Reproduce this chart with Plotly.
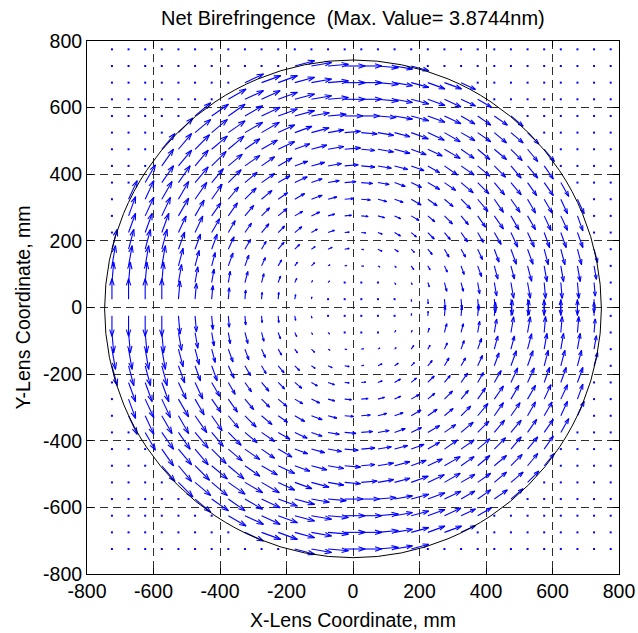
import math

import plotly.figure_factory as ff
import plotly.graph_objects as go

# Peak net retardance over the lens aperture (nm)
MAX_VALUE_NM = 3.8744

# Sample grid (mm)
GRID_X_MM = [-725, -675, -625, -575, -525, -475, -425, -375, -325, -275, -225,
             -175, -125, -75, -25, 25, 75, 125, 175, 225, 275, 325, 375, 425,
             475, 525, 575, 625, 675, 725, 775]
GRID_Y_MM = [775, 725, 675, 625, 575, 525, 475, 425, 375, 325, 275, 225, 175,
             125, 75, 25, -25, -75, -125, -175, -225, -275, -325, -375, -425,
             -475, -525, -575, -625, -675, -725]

# Retardance magnitude per grid node, in ninths of MAX_VALUE_NM
# ('.' = outside the clear aperture, no measurement)
MAG_ROWS = [
    "." * 31,
    "." * 11 + "99999988" + "." * 12,
    "." * 8 + "99999999988887" + "." * 9,
    "." * 7 + "9999999999888877" + "." * 8,
    "." * 5 + "99999998888888887777" + "." * 6,
    "." * 4 + "9999998887777788877777" + "." * 5,
    "." * 3 + "999998887777677778777777" + "." * 4,
    "." * 3 + "999988776666666667777777" + "." * 4,
    "." * 2 + "99998877665555555667777777" + "." * 3,
    "." * 1 + "9999987765554444455567777777" + "." * 2,
    "." * 1 + "9999877655443333344556777777" + "." * 2,
    "." * 1 + "9998876554433222334455677777" + "." * 2,
    "999987765443222122234456777776" + ".",
    "999987665432211111223456677776" + ".",
    "999987655432110001124456777776" + ".",
    "999987654332100000124456777776" + ".",
    "999987654332100000124456777776" + ".",
    "999987655432110001124456777776" + ".",
    "999987665432211111223456677776" + ".",
    "999987765443222122234456777776" + ".",
    "." * 1 + "9998876554433222334455677777" + "." * 2,
    "." * 1 + "9999877655443333344556777777" + "." * 2,
    "." * 1 + "9999987765554444455567777777" + "." * 2,
    "." * 2 + "99998877665555555667777777" + "." * 3,
    "." * 3 + "999988776666666667777777" + "." * 4,
    "." * 3 + "999998887777677778777777" + "." * 4,
    "." * 4 + "9999998887777788877777" + "." * 5,
    "." * 5 + "99999998888888887777" + "." * 6,
    "." * 7 + "9999999999888877" + "." * 8,
    "." * 8 + "99999999988887" + "." * 9,
    "." * 11 + "99999988" + "." * 12,
]

# Principal-axis orientation per node, 5 degree steps:
# 'a' = -90 deg ... 's' = 0 deg ... 'K' = +90 deg
ANGLE_CODES = "abcdefghijklmnopqrstuvwxyzABCDEFGHIJK"
ANGLE_ROWS = [
    "." * 31,
    "." * 11 + "vutssrqp" + "." * 12,
    "." * 8 + "xwwvutssrqpoon" + "." * 9,
    "." * 7 + "yxxwvutssrqponnm" + "." * 8,
    "." * 5 + "Azzyxwvutssrqponmllk" + "." * 6,
    "." * 4 + "BAAzyyxwvut" + "rqponmmlkkj" + "." * 5,
    "." * 3 + "CCBAAzyxwvut" + "rqponmlkkjii" + "." * 4,
    "." * 3 + "DCCBAzzywvut" + "rqpomllkjiih" + "." * 4,
    "." * 2 + "EDDCCBAzyxwut" + "rqonmlkjiihhg" + "." * 3,
    "." * 1 + "FFEEDDCBAzywvt" + "rpomlkjihhggff" + "." * 2,
    "." * 1 + "GFFEEDDCBAyxvt" + "rpnmkjihhggffe" + "." * 2,
    "." * 1 + "GGGFFEEDCBAywt" + "romkjihggffeee" + "." * 2,
    "HHHHGGGFEECBzxu" + "qnljiggfeeedddd" + ".",
    "IIIIHHHGGFEDByu" + "qmjhgfeedddcccc" + ".",
    "JJJJIIIIHHGFEBw" + "ojgfeddccccbbbb" + ".",
    "KKKKJJJJJJJIIGB" + "jeccbbbbbbbaaaa" + ".",
    "aaaabbbbbbbccej" + "BGIIJJJJJJJKKKK" + ".",
    "bbbbccccddefgjo" + "wBEFGHHIIIIJJJJ" + ".",
    "ccccdddeefghjmq" + "uyBDEFGGHHHIIII" + ".",
    "ddddeeefggijlnq" + "uxzBCEEFGGGHHHH" + ".",
    "." * 1 + "eeeffgghijkmor" + "twyABCDEEFFGGG" + "." * 2,
    "." * 1 + "effgghhijkmnpr" + "tvxyABCDDEEFFG" + "." * 2,
    "." * 1 + "ffgghhijklmopr" + "tvwyzABCDDEEFF" + "." * 2,
    "." * 2 + "ghhiijklmnoqr" + "tuwxyzABCCDDE" + "." * 3,
    "." * 3 + "hiijkllmopqr" + "tuvwyzzABCCD" + "." * 4,
    "." * 3 + "iijkklmnopqr" + "tuvwxyzAABCC" + "." * 4,
    "." * 4 + "jkklmmnopqr" + "tuvwxyyzAAB" + "." * 5,
    "." * 5 + "kllmnopqrs" + "stuvwxyzzA" + "." * 6,
    "." * 7 + "mnnopqrs" + "stuvwxxy" + "." * 8,
    "." * 8 + "noopqrs" + "stuvwwx" + "." * 9,
    "." * 11 + "pqrs" + "stuv" + "." * 12,
]

# Lens clear-aperture outline (mm)
LENS_CENTER_MM = (0.0, -4.0)
LENS_RADIUS_MM = 747.0

TITLE = f"Net Birefringence  (Max. Value= {MAX_VALUE_NM}nm)"
X_LABEL = "X-Lens Coordinate, mm"
Y_LABEL = "Y-Lens Coordinate, mm"
TICKS = [-800, -600, -400, -200, 0, 200, 400, 600, 800]

FONT = "Liberation Sans, Arial, Helvetica, sans-serif"
BLUE = "#0000ff"

# ---- build vector components -------------------------------------------
qx, qy, qu, qv = [], [], [], []
dot_x, dot_y = [], []
for r, y in enumerate(GRID_Y_MM):
    mrow, arow = MAG_ROWS[r], ANGLE_ROWS[r]
    for c, x in enumerate(GRID_X_MM):
        m = mrow[c] if c < len(mrow) else "."
        a = arow[c] if c < len(arow) else "."
        level = int(m) if m.isdigit() else 0
        if level == 0 or a == ".":
            dot_x.append(x)
            dot_y.append(y)
            continue
        mag = level * MAX_VALUE_NM / 9.0
        theta = math.radians((ANGLE_CODES.index(a) - 18) * 5)
        qx.append(x)
        qy.append(y)
        qu.append(mag * math.cos(theta))
        qv.append(mag * math.sin(theta))

# quiver-style autoscale: longest arrow = 0.9 x diagonal grid spacing
n = len(GRID_X_MM)
delx = (max(GRID_X_MM) - min(GRID_X_MM)) / n
dely = (max(GRID_Y_MM) - min(GRID_Y_MM)) / n
longest = max(math.hypot(u, v) for u, v in zip(qu, qv))
scale = 0.9 * math.hypot(delx, dely) / longest

fig = ff.create_quiver(
    qx, qy, qu, qv,
    scale=scale,
    arrow_scale=0.3475,
    angle=0.3187,
    line=dict(color=BLUE, width=1.1),
    showlegend=False,
    hoverinfo="skip",
)

fig.add_trace(go.Scatter(
    x=dot_x, y=dot_y, mode="markers",
    marker=dict(color=BLUE, size=2, symbol="square", line=dict(width=0)),
    showlegend=False, hoverinfo="skip",
))

cx, cy = LENS_CENTER_MM
fig.add_shape(
    type="circle", xref="x", yref="y",
    x0=cx - LENS_RADIUS_MM, x1=cx + LENS_RADIUS_MM,
    y0=cy - LENS_RADIUS_MM, y1=cy + LENS_RADIUS_MM,
    line=dict(color="black", width=1), layer="above",
)

axis_common = dict(
    range=[-800, 800],
    autorange=False,
    automargin=False,
    tickvals=TICKS,
    ticktext=[str(t) for t in TICKS],
    ticks="inside",
    ticklen=6,
    tickwidth=1,
    tickcolor="black",
    showline=True,
    linecolor="black",
    linewidth=1,
    mirror="ticks",
    showgrid=True,
    gridcolor="#2e2e2e",
    gridwidth=1,
    griddash="8px,5px",
    zeroline=False,
    tickfont=dict(family=FONT, size=19.5, color="black"),
    fixedrange=True,
)

fig.update_layout(
    template="none",
    width=638,
    height=633,
    autosize=False,
    margin=dict(l=87, r=19, t=41, b=59, pad=0),
    paper_bgcolor="white",
    plot_bgcolor="white",
    showlegend=False,
    xaxis=dict(**axis_common),
    yaxis=dict(**axis_common),
    annotations=[
        dict(text=TITLE, xref="paper", yref="paper", x=0.5, y=1.043,
             xanchor="center", yanchor="middle", showarrow=False,
             font=dict(family=FONT, size=20, color="black")),
        dict(text=X_LABEL, xref="paper", yref="paper", x=0.5, y=-0.086,
             xanchor="center", yanchor="middle", showarrow=False,
             font=dict(family=FONT, size=19.5, color="black")),
        dict(text=Y_LABEL, xref="paper", yref="paper", x=-0.122, y=0.5,
             xanchor="center", yanchor="middle", showarrow=False,
             textangle=-90,
             font=dict(family=FONT, size=19.5, color="black")),
    ],
)

fig.write_html("out.html")
